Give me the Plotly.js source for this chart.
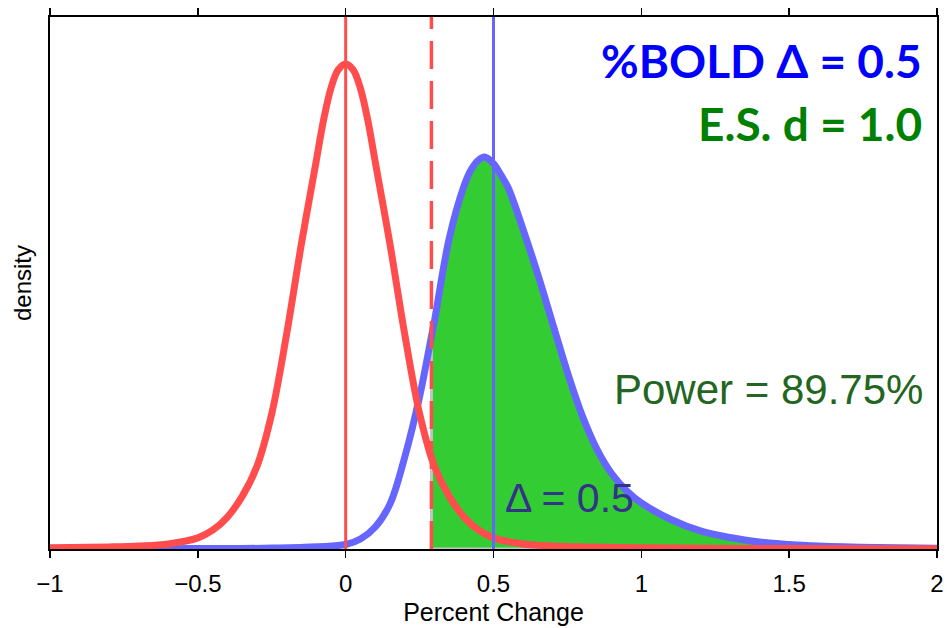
<!DOCTYPE html>
<html>
<head>
<meta charset="utf-8">
<script src="https://cdn.plot.ly/plotly-3.0.1.min.js"></script>
<style>html,body{margin:0;padding:0;background:#fff;}#chart{width:947px;height:628px;}</style>
</head>
<body>
<div id="chart"></div>
<script>
// ---- data ----
const nullX = [-1, -0.8, -0.7, -0.6, -0.5, -0.45, -0.4, -0.35, -0.3, -0.25, -0.2, -0.15, -0.1, -0.075, -0.05, -0.025, 0,
               0.025, 0.05, 0.075, 0.1, 0.15, 0.2, 0.25, 0.3, 0.35, 0.4, 0.45, 0.5, 0.6, 0.7, 0.8, 1.0, 1.5, 2.0];
const nullY = [0.006, 0.011, 0.016, 0.027, 0.059, 0.10, 0.17, 0.28, 0.44, 0.72, 1.14, 1.62, 2.06, 2.28, 2.45, 2.55, 2.58,
               2.55, 2.45, 2.28, 2.06, 1.62, 1.14, 0.72, 0.44, 0.28, 0.17, 0.10, 0.059, 0.027, 0.016, 0.011, 0.006, 0.002, 0.001];
const altX = [-1, -0.5, -0.25, 0, 0.05, 0.1, 0.15, 0.2, 0.25, 0.29, 0.3, 0.35, 0.4, 0.425, 0.45, 0.47, 0.5, 0.525, 0.55, 0.6,
              0.65, 0.7, 0.75, 0.8, 0.85, 0.9, 0.95, 1.0, 1.1, 1.2, 1.3, 1.4, 1.5, 1.6, 1.8, 2.0];
const altY = [0.0, 0.002, 0.005, 0.024, 0.053, 0.117, 0.24, 0.49, 0.81, 1.13, 1.21, 1.65, 1.93, 2.02, 2.07, 2.085, 2.05, 1.99, 1.92, 1.70,
              1.46, 1.20, 0.94, 0.71, 0.53, 0.40, 0.31, 0.245, 0.157, 0.096, 0.061, 0.037, 0.024, 0.016, 0.008, 0.004];
const nullMean = 0;
const critVal = 0.29;
const delta = 0.5;
const xTicks = [-1, -0.5, 0, 0.5, 1, 1.5, 2];
const xTickText = ['\u22121', '\u22120.5', '0', '0.5', '1', '1.5', '2'];
const powerPct = 89.75;
const esD = '1.0';

// ---- build traces ----
const fillX = [], fillY = [];
altX.forEach((x, i) => { if (x >= critVal) { fillX.push(x); fillY.push(altY[i]); } });
fillX.push(altX[altX.length - 1], critVal, critVal);
fillY.push(0, 0, fillY[0]);

const RED = '#ff4d4d', BLUE = '#6666ff';
const traces = [
  {x: fillX, y: fillY, type: 'scatter', mode: 'lines', fill: 'toself', fillcolor: '#33cc33',
   line: {color: '#c4c4c4', width: 3}, hoverinfo: 'skip', showlegend: false},
  {x: altX, y: altY, type: 'scatter', mode: 'lines', line: {color: BLUE, width: 7, shape: 'spline', smoothing: 1},
   showlegend: false},
  {x: nullX, y: nullY, type: 'scatter', mode: 'lines', line: {color: RED, width: 7, shape: 'spline', smoothing: 1},
   showlegend: false}
];

const layout = {
  width: 947, height: 628,
  margin: {l: 50, r: 10, t: 17, b: 79},
  paper_bgcolor: '#fff', plot_bgcolor: '#fff',
  showlegend: false,
  font: {family: '"Liberation Sans", Arial, sans-serif', color: '#000'},
  xaxis: {
    range: [-1, 2], tickvals: xTicks, ticktext: xTickText,
    showgrid: false, zeroline: false, showline: true, linecolor: '#000', linewidth: 2,
    mirror: 'ticks', ticks: 'outside', ticklen: 7, tickwidth: 1.5, tickcolor: '#000',
    ticklabelstandoff: 5,
    tickfont: {size: 24, color: '#000'},
    title: {text: 'Percent Change', font: {size: 25, color: '#000'}, standoff: 8}
  },
  yaxis: {
    range: [0, 2.83], showgrid: false, zeroline: false, showline: true, linecolor: '#000', linewidth: 2,
    mirror: true, ticks: '', showticklabels: false,
    title: {text: 'density', font: {size: 24, color: '#000'}, standoff: 10}
  },
  shapes: [
    {type: 'line', xref: 'x', yref: 'paper', x0: nullMean, x1: nullMean, y0: 0, y1: 1, line: {color: RED, width: 3}},
    {type: 'line', xref: 'x', yref: 'paper', x0: critVal, x1: critVal, y0: 0, y1: 1, line: {color: RED, width: 3.5, dash: '28px,12px'}},
    {type: 'line', xref: 'x', yref: 'paper', x0: delta, x1: delta, y0: 0, y1: 1, line: {color: BLUE, width: 3}}
  ],
  annotations: [
    {xref: 'paper', yref: 'paper', x: 0.985, y: 0.919, xanchor: 'right', yanchor: 'middle', showarrow: false,
     text: '<b>%BOLD \u0394 = ' + delta + '</b>', font: {family: 'Lato, "Open Sans", sans-serif', size: 46, color: '#0000ff'}},
    {xref: 'paper', yref: 'paper', x: 0.985, y: 0.80, xanchor: 'right', yanchor: 'middle', showarrow: false,
     text: '<b>E.S. d = ' + esD + '</b>', font: {family: 'Lato, "Open Sans", sans-serif', size: 46, color: '#008000'}},
    {xref: 'paper', yref: 'paper', x: 0.986, y: 0.299, xanchor: 'right', yanchor: 'middle', showarrow: false,
     text: 'Power = ' + powerPct + '%', font: {size: 42, color: '#226622'}},
    {xref: 'paper', yref: 'paper', x: 0.511, y: 0.096, xanchor: 'left', yanchor: 'middle', showarrow: false,
     text: '\u0394 = ' + delta, font: {size: 41, color: '#333388'}}
  ]
};

Plotly.newPlot('chart', traces, layout, {displayModeBar: false, staticPlot: true});
</script>
</body>
</html>
